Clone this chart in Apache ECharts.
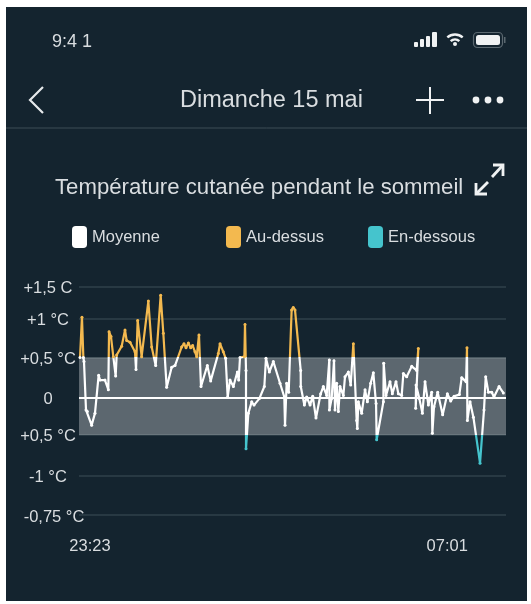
<!DOCTYPE html>
<html><head><meta charset="utf-8">
<style>html,body{margin:0;padding:0;background:#fff}#c{width:531px;height:604px}</style>
<script src="https://cdn.jsdelivr.net/npm/echarts@6/dist/echarts.min.js"></script>
</head><body><div id="c"></div>
<script>
const minutes=[-12.8,-10.3,-8.5,-7.7,-5.1,-3.4,2.1,6.4,11.1,12.8,19.2,23.5,24.4,26.9,29.9,32.9,34.2,40.6,44.9,47,51.3,57.7,59,61.1,66.2,74.8,79.1,84.2,90.6,94,98.3,104.7,109,117.5,120.5,123.1,126.1,129.1,131.6,134.6,136.8,139.7,142.3,150.4,154.7,164.5,166.7,170.9,173.9,176.5,179.5,183.8,188.9,190.6,192.3,197.9,198.7,200,200,203,207.3,210.3,217.1,223.5,225.6,229.9,235,243.6,249.1,250,252.1,254.7,258.5,260.6,262.8,270.1,270.2,274.8,277.8,282.1,285.5,289.7,295.7,299.1,303.4,306.8,306.9,309.8,312.8,314.1,316.2,318.4,320.5,324.8,326.9,331.2,334.2,337.6,341.9,342.7,344,348.3,352.6,355.6,359.8,363.2,366.7,367.5,376.1,376.5,379.5,384.6,387.6,392.3,395.3,399.6,401.7,406,412.4,418.8,420.9,417.5,418,422.2,426.1,429.5,433.8,438,438.9,441,445.7,452.1,458.1,462.4,466.7,473.5,476.5,482.1,483.3,483.8,487.2,491.5,500,505.1,507.3,510.7,515,517.9,524.4,529.9];
const temps=[.5,1,.5,.45,-.15,-.17,-.34,-.19,.28,.22,.22,.1,.82,.76,.51,.27,.53,.64,.84,.71,.69,.57,.35,.96,.51,1.2,.63,.4,1.27,.8,.13,.38,.4,.63,.67,.62,.68,.62,.65,.57,.51,.78,.14,.4,.21,.55,.67,.57,.49,.01,.22,.14,.32,.22,.5,.51,.91,.34,-.63,-.19,-.05,-.09,-.01,.14,.49,.32,.45,.18,.01,-.34,.18,.07,1.09,1.12,1.09,.34,.14,-.09,.01,-.09,.02,-.25,.05,.14,.03,.47,-.15,-.01,.46,-.15,.18,-.17,.14,.03,.26,.32,.16,.67,-.28,-.38,-.05,-.19,.1,-.05,.18,.31,-.07,-.52,-.05,.43,.03,.2,.05,.2,.05,.03,.3,.26,.39,.34,.61,-.13,.16,-.01,-.19,.2,-.09,.07,-.44,-.11,.07,-.21,.05,-.04,.02,.04,.25,.2,.62,-.28,-.05,-.24,-.81,-.15,.26,.07,.07,.01,.14,.06];
const yTicks=[1.38,.98,.5,0,-.46,-.96,-1.454];
const yLabels=['+1,5 C','+1 °C','+0,5 °C','0','+0,5 °C','-1 °C','-0,75 °C'];
const xTicks=[0,458];
const xLabels=['23:23','07:01'];
const bandHigh=.5, bandLow=-.46;
const names=['Moyenne','Au-dessus','En-dessous'];
const colors=['#ffffff','#f3b94f','#45c4cd'];
const FONT='"Liberation Sans",Arial,sans-serif';
const txt='#d9dde0', icon='#f0f2f3';
const points=minutes.map((m,i)=>[m,temps[i]]);
const chart=echarts.init(document.getElementById('c'),null,{renderer:'canvas'});
const legendAt=[72,226,368];
const legendTop=[226,226,226];
const stroke={stroke:icon,lineWidth:2.8,fill:null};
chart.setOption({
 animation:false,
 backgroundColor:'#ffffff',
 title:{text:'Température cutanée pendant le sommeil',left:55,top:177,padding:0,textStyle:{color:txt,fontFamily:FONT,fontWeight:'normal',fontSize:22.2}},
 legend:names.map((n,i)=>({data:[{name:n,itemStyle:{color:colors[i]}}],left:legendAt[i],top:legendTop[i],padding:0,itemWidth:15,itemHeight:22,itemGap:9,icon:'roundRect',selectedMode:false,textStyle:{color:txt,fontFamily:FONT,fontSize:16.5}})),
 grid:{left:79,right:25,top:286.5,height:228.6},
 xAxis:{type:'value',min:-14.1,max:533.3,splitLine:{show:false},axisLine:{show:false},axisTick:{show:false,customValues:xTicks},
  axisLabel:{customValues:xTicks,formatter:v=>xLabels[xTicks.indexOf(v)],color:txt,fontFamily:FONT,fontSize:16.5,margin:23}},
 yAxis:{type:'value',min:-1.454,max:1.38,axisLine:{show:false},axisTick:{show:false,customValues:yTicks},
  splitLine:{show:true,lineStyle:{color:'#2f404b',width:1.5}},
  axisLabel:{customValues:yTicks,formatter:v=>{const s=yLabels[yTicks.indexOf(v)];return s.startsWith('-0,75')?'{w|'+s+'}':s;},
   rich:{w:{color:txt,fontFamily:FONT,fontSize:16.5,padding:[0,0,0,12]}},color:txt,fontFamily:FONT,fontSize:16.5,align:'center',margin:31,padding:[4,0,0,0]}},
 visualMap:{show:false,seriesIndex:0,dimension:1,pieces:[{lt:bandLow,color:colors[2]},{gte:bandLow,lte:bandHigh,color:colors[0]},{gt:bandHigh,color:colors[1]}]},
 series:[
  {name:names[0],type:'line',data:points,symbol:'circle',symbolSize:3,showSymbol:true,lineStyle:{width:2.2,join:'round'},z:5,clip:false},
  {name:names[1],type:'line',data:[],itemStyle:{color:colors[1]},
   markArea:{silent:true,itemStyle:{color:'rgba(255,255,255,0.31)'},data:[[{yAxis:bandHigh},{yAxis:bandLow}]]},
   markLine:{silent:true,symbol:'none',label:{show:false},lineStyle:{color:'#fff',width:2,type:'solid'},data:[{yAxis:0}]},z:2},
  {name:names[2],type:'line',data:[],itemStyle:{color:colors[2]}}
 ],
 graphic:[
  {type:'rect',z:-10,shape:{x:6,y:7,width:521,height:594},style:{fill:'#14242f'}},
  {type:'text',left:52,top:33,style:{text:'9:4 1',fill:txt,font:'18px '+FONT}},
  {type:'text',left:180,top:89,style:{text:'Dimanche 15 mai',fill:txt,font:'23.5px '+FONT}},
  {type:'line',shape:{x1:6,y1:128,x2:527,y2:128},style:{stroke:'#3c4c57',lineWidth:1}},
  {type:'polyline',shape:{points:[[43,87],[30,100],[43,113]]},style:{stroke:'#e6e9eb',lineWidth:2.2,fill:null}},
  {type:'line',shape:{x1:430,y1:87,x2:430,y2:114},style:{stroke:icon,lineWidth:2}},
  {type:'line',shape:{x1:416,y1:100,x2:444,y2:100},style:{stroke:icon,lineWidth:2}},
  {type:'circle',shape:{cx:476,cy:100,r:3.4},style:{fill:icon}},
  {type:'circle',shape:{cx:488,cy:100,r:3.4},style:{fill:icon}},
  {type:'circle',shape:{cx:500,cy:100,r:3.4},style:{fill:icon}},
  {type:'rect',shape:{x:414,y:42,width:4,height:5,r:1},style:{fill:icon}},
  {type:'rect',shape:{x:420,y:39,width:4,height:8,r:1},style:{fill:icon}},
  {type:'rect',shape:{x:426,y:36,width:4,height:11,r:1},style:{fill:icon}},
  {type:'rect',shape:{x:432,y:32,width:5,height:15,r:1},style:{fill:icon}},
  {type:'arc',shape:{cx:455,cy:46,r:11.5,startAngle:-2.3,endAngle:-0.84},style:{stroke:icon,lineWidth:2.4,fill:null}},
  {type:'arc',shape:{cx:455,cy:46,r:6.5,startAngle:-2.3,endAngle:-0.84},style:{stroke:icon,lineWidth:2.4,fill:null}},
  {type:'circle',shape:{cx:455,cy:44,r:2},style:{fill:icon}},
  {type:'rect',shape:{x:473.5,y:32.5,width:29,height:15,r:4},style:{fill:null,stroke:'#5b6870',lineWidth:1.2}},
  {type:'rect',shape:{x:476,y:35,width:24,height:10,r:2.5},style:{fill:icon}},
  {type:'rect',shape:{x:504,y:37,width:1.5,height:6},style:{fill:'#5b6870'}},
  {type:'polyline',shape:{points:[[493,165],[503,165],[503,176]]},style:stroke},
  {type:'line',shape:{x1:492,y1:177,x2:503,y2:165},style:{stroke:icon,lineWidth:2.8}},
  {type:'polyline',shape:{points:[[476,183],[476,194],[487,194]]},style:stroke},
  {type:'line',shape:{x1:476,y1:194,x2:488,y2:182},style:{stroke:icon,lineWidth:2.8}}
 ]
});
</script></body></html>
